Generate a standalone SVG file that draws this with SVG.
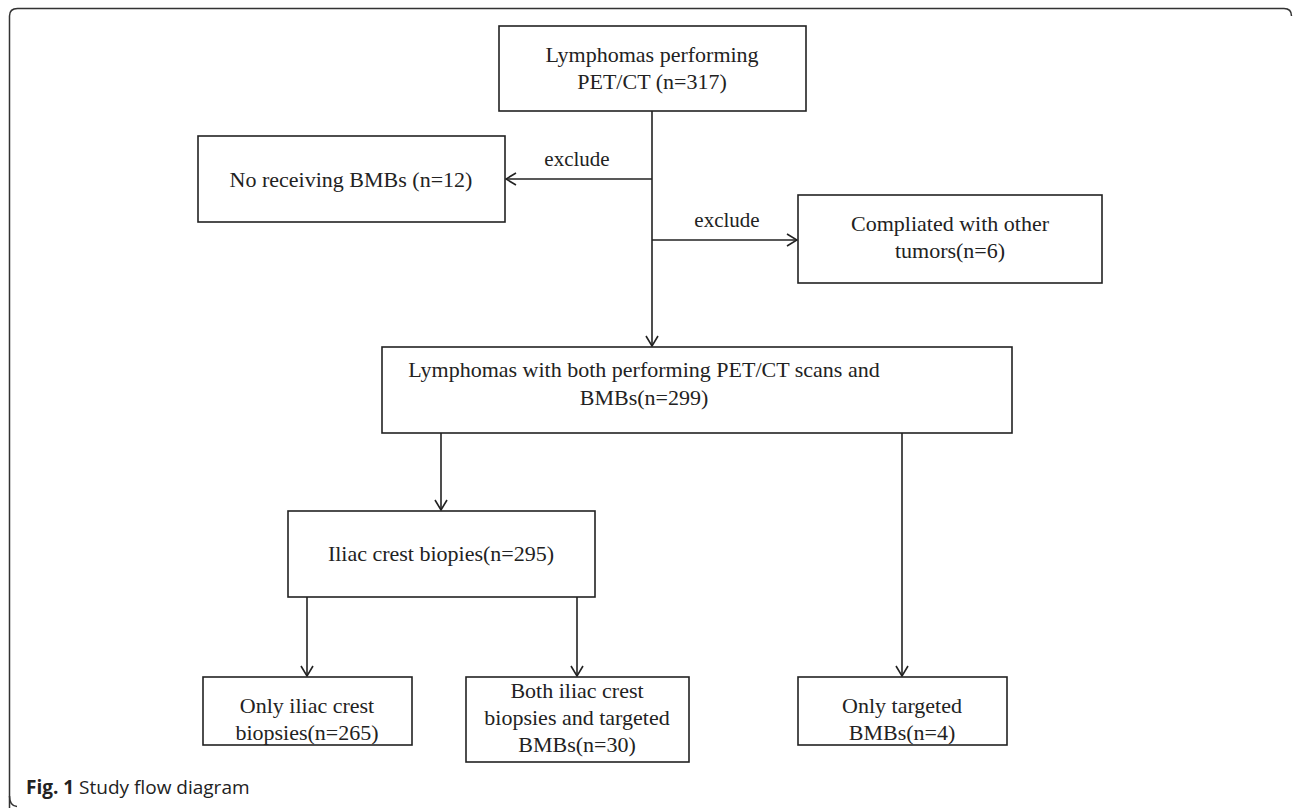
<svg xmlns="http://www.w3.org/2000/svg" width="1293" height="808" viewBox="0 0 1293 808">
<defs>
<style>
.box{fill:#fff;stroke:#222;stroke-width:1.6}
.t{font-family:"Liberation Serif","Times New Roman",serif;font-size:22px;fill:#222;text-anchor:middle}
.lbl{font-family:"Liberation Serif","Times New Roman",serif;font-size:21px;fill:#222;text-anchor:middle}
.c{fill:none;stroke:#222;stroke-width:1.6}
.cap{font-family:"Open Sans","Liberation Sans",sans-serif;font-size:19px;fill:#222}
</style>
<marker id="arr" viewBox="0 0 12 14" refX="11" refY="7" markerWidth="12" markerHeight="14" markerUnits="userSpaceOnUse" orient="auto">
<path d="M1,1 L11,7 L1,13" fill="none" stroke="#222" stroke-width="1.6"/>
</marker>
</defs>
<rect width="1293" height="808" fill="#fff"/>
<path d="M9.5,808 L9.5,16 Q9.5,8.5 17.5,8.5 L1284,8.5 Q1291.5,8.5 1291.5,16" fill="none" stroke="#333" stroke-width="1.5"/>
<path d="M9.5,796 Q9.5,806 17,806.5" fill="none" stroke="#333" stroke-width="1.5"/>

<g id="connectors">
<line class="c" x1="652" y1="111" x2="652" y2="346" marker-end="url(#arr)"/>
<line class="c" x1="652" y1="179" x2="506" y2="179" marker-end="url(#arr)"/>
<line class="c" x1="652" y1="240" x2="797" y2="240" marker-end="url(#arr)"/>
<line class="c" x1="441" y1="433" x2="441" y2="510" marker-end="url(#arr)"/>
<line class="c" x1="902" y1="433" x2="902" y2="676" marker-end="url(#arr)"/>
<line class="c" x1="307" y1="597" x2="307" y2="676" marker-end="url(#arr)"/>
<line class="c" x1="577" y1="597" x2="577" y2="676" marker-end="url(#arr)"/>
<text class="lbl" x="577" y="166">exclude</text>
<text class="lbl" x="727" y="227">exclude</text>
</g>

<g id="n-start">
<rect class="box" x="499" y="26" width="307" height="85"/>
<text class="t" x="652" y="62">Lymphomas performing</text>
<text class="t" x="652" y="89">PET/CT (n=317)</text>
</g>
<g id="n-nobmb">
<rect class="box" x="198" y="136" width="307" height="86"/>
<text class="t" x="351" y="187">No receiving BMBs (n=12)</text>
</g>
<g id="n-other">
<rect class="box" x="798" y="195" width="304" height="88"/>
<text class="t" x="950" y="231">Compliated with other</text>
<text class="t" x="950" y="258">tumors(n=6)</text>
</g>
<g id="n-both">
<rect class="box" x="382" y="347" width="630" height="86"/>
<text class="t" x="644" y="377">Lymphomas with both performing PET/CT scans and</text>
<text class="t" x="644" y="405">BMBs(n=299)</text>
</g>
<g id="n-iliac">
<rect class="box" x="288" y="511" width="307" height="86"/>
<text class="t" x="441" y="561">Iliac crest biopies(n=295)</text>
</g>
<g id="n-onlyiliac">
<rect class="box" x="203" y="677" width="209" height="68"/>
<text class="t" x="307" y="713">Only iliac crest</text>
<text class="t" x="307" y="740">biopsies(n=265)</text>
</g>
<g id="n-bothiliac">
<rect class="box" x="466" y="677" width="223" height="85"/>
<text class="t" x="577" y="698">Both iliac crest</text>
<text class="t" x="577" y="725">biopsies and targeted</text>
<text class="t" x="577" y="752">BMBs(n=30)</text>
</g>
<g id="n-targeted">
<rect class="box" x="798" y="677" width="209" height="68"/>
<text class="t" x="902" y="713">Only targeted</text>
<text class="t" x="902" y="740">BMBs(n=4)</text>
</g>
<text class="cap" x="26" y="794"><tspan font-weight="bold">Fig. 1</tspan> Study flow diagram</text>
</svg>
